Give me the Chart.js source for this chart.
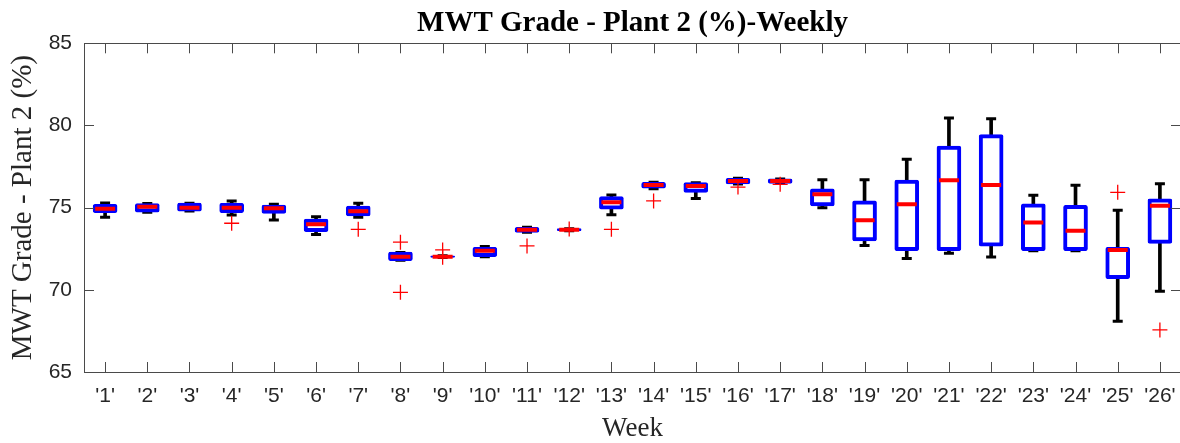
<!DOCTYPE html>
<html>
<head>
<meta charset="utf-8">
<script src="https://cdn.jsdelivr.net/npm/chart.js@4.4.1/dist/chart.umd.min.js"></script>
<style>
  html, body { margin: 0; padding: 0; background: #fff; overflow: hidden; }
  canvas { display: block; }
</style>
</head>
<body>
<!-- a bit wider than the window: Chart.js keeps room for the point markers on the right -->
<canvas id="boxChart" width="1195" height="443"></canvas>
<script>
// Weekly box plot values
const weeks = ["'1'", "'2'", "'3'", "'4'", "'5'", "'6'", "'7'", "'8'", "'9'", "'10'", "'11'", "'12'", "'13'",
               "'14'", "'15'", "'16'", "'17'", "'18'", "'19'", "'20'", "'21'", "'22'", "'23'", "'24'", "'25'", "'26'"];
const q1 =          [74.70, 74.72, 74.78, 74.70, 74.65, 73.54, 74.50, 71.78, 71.97, 72.02, 73.50, 73.60, 74.90,
                     76.18, 75.93, 76.44, 76.48, 75.10, 72.97, 72.38, 72.38, 72.65, 72.38, 72.38, 70.68, 72.83];
const q3 =          [75.20, 75.25, 75.28, 75.27, 75.15, 74.31, 75.10, 72.29, 72.07, 72.59, 73.80, 73.72, 75.67,
                     76.54, 76.52, 76.79, 76.75, 76.14, 75.41, 76.67, 78.75, 79.44, 75.23, 75.14, 72.59, 75.53];
const medians =     [74.94, 75.06, 75.00, 75.00, 74.96, 73.99, 74.78, 72.02, 72.02, 72.37, 73.66, 73.66, 75.33,
                     76.38, 76.32, 76.62, 76.62, 75.81, 74.23, 75.20, 76.67, 76.38, 74.09, 73.60, 72.43, 75.12];
const whiskerLow =  [74.42, 74.72, 74.80, 74.56, 74.25, 73.36, 74.42, 71.80, 71.97, 72.02, 73.50, 73.60, 74.57,
                     76.15, 75.55, 76.44, 76.48, 75.00, 72.69, 71.90, 72.22, 72.00, 72.38, 72.38, 68.09, 69.91];
const whiskerHigh = [75.28, 75.25, 75.27, 75.40, 75.20, 74.45, 75.27, 72.27, 72.07, 72.63, 73.80, 73.72, 75.77,
                     76.54, 76.52, 76.79, 76.75, 76.69, 76.69, 77.94, 80.46, 80.41, 75.75, 76.36, 74.84, 76.46];
const outlierWeeks =  ["'4'", "'7'", "'8'", "'8'", "'9'", "'9'", "'11'", "'12'", "'13'", "'14'", "'16'", "'17'", "'25'", "'26'"];
const outlierValues = [74.05, 73.68, 72.90, 69.85, 72.43, 71.98, 72.67, 73.70, 73.68, 75.41, 76.25, 76.42, 75.93, 67.56];
const yTicks = { min: 65, max: 85, step: 5 };

const axisColor = '#262626';

// frame round the plot with inward tick marks, like the MATLAB axes
const boxFrame = {
    id: 'boxFrame',
    afterDraw(chart) {
        const { ctx, chartArea: a, scales: { x, y } } = chart;
        const len = 10;
        ctx.save();
        ctx.strokeStyle = '#4a4a4a';
        ctx.lineWidth = 1;
        ctx.beginPath();
        x.ticks.forEach((t, i) => {
            const px = Math.round(x.getPixelForTick(i)) + 0.5;
            ctx.moveTo(px, a.bottom); ctx.lineTo(px, a.bottom - len);
            ctx.moveTo(px, a.top); ctx.lineTo(px, a.top + len);
        });
        y.ticks.forEach((t, i) => {
            const py = Math.round(y.getPixelForTick(i)) + 0.5;
            ctx.moveTo(a.left, py); ctx.lineTo(a.left + len, py);
            ctx.moveTo(a.right, py); ctx.lineTo(a.right - len, py);
        });
        ctx.stroke();
        ctx.strokeRect(Math.round(a.left) + 0.5, Math.round(a.top) + 0.5,
                       Math.round(a.width) - 1, Math.round(a.height));
        ctx.restore();
    }
};

const ctx = document.getElementById('boxChart');
new Chart(ctx, {
    type: 'bar',
    data: {
        labels: weeks,
        datasets: [
            {
                // whisker stems
                label: 'whisker',
                data: weeks.map((w, i) => [whiskerLow[i], whiskerHigh[i]]),
                backgroundColor: '#000',
                barThickness: 3,
                grouped: false,
                order: 6
            },
            {
                label: 'capHigh',
                type: 'line',
                data: whiskerHigh,
                showLine: false,
                pointStyle: 'line',
                pointRadius: 5,
                pointBorderWidth: 3,
                borderColor: '#000',
                order: 5
            },
            {
                label: 'capLow',
                type: 'line',
                data: whiskerLow,
                showLine: false,
                pointStyle: 'line',
                pointRadius: 5,
                pointBorderWidth: 3,
                borderColor: '#000',
                order: 5
            },
            {
                // interquartile boxes
                label: 'box',
                data: weeks.map((w, i) => [q1[i], q3[i]]),
                backgroundColor: '#fff',
                borderColor: '#0000ff',
                borderWidth: 4,
                borderSkipped: false,
                borderRadius: 2,
                barThickness: 24,
                grouped: false,
                order: 4
            },
            {
                label: 'median',
                type: 'line',
                data: medians,
                showLine: false,
                pointStyle: 'line',
                pointRadius: 10,
                pointBorderWidth: 4,
                borderColor: '#ff0000',
                order: 2
            },
            {
                label: 'outliers',
                type: 'line',
                data: outlierWeeks.map((w, i) => ({ x: w, y: outlierValues[i] })),
                showLine: false,
                pointStyle: 'cross',
                pointRadius: 7.5,
                pointBorderWidth: 1.3,
                borderColor: '#ff0000',
                order: 1
            }
        ]
    },
    options: {
        responsive: false,
        animation: false,
        events: [],
        layout: { padding: { left: 0, right: 0, top: 0, bottom: 0 } },
        plugins: {
            legend: { display: false },
            tooltip: { enabled: false },
            title: {
                display: true,
                fullSize: false,
                text: 'MWT Grade - Plant 2 (%)-Weekly',
                color: '#000',
                font: { family: '"Liberation Serif", "Times New Roman", serif', size: 29, weight: 'bold', lineHeight: 1.2 },
                padding: { top: 5.8, bottom: 2.7 }
            }
        },
        scales: {
            x: {
                grid: { display: false, drawTicks: false },
                border: { display: false },
                ticks: {
                    color: axisColor,
                    padding: 12,
                    maxRotation: 0,
                    autoSkip: false,
                    font: { family: '"Liberation Sans", Arial, sans-serif', size: 21 }
                },
                title: {
                    display: true,
                    text: 'Week',
                    color: axisColor,
                    font: { family: '"Liberation Serif", "Times New Roman", serif', size: 27, lineHeight: 1 },
                    padding: { top: 0, bottom: 0.5 }
                },
                afterFit: (scale) => {
                    scale.height = 71;
                    scale.paddingLeft = 0;
                    scale.paddingRight = 0;
                }
            },
            y: {
                min: yTicks.min,
                max: yTicks.max,
                grid: { display: false, drawTicks: false },
                border: { display: false },
                ticks: {
                    stepSize: yTicks.step,
                    color: axisColor,
                    padding: 12,
                    font: { family: '"Liberation Sans", Arial, sans-serif', size: 21 }
                },
                title: {
                    display: true,
                    text: 'MWT Grade - Plant 2 (%)',
                    color: axisColor,
                    font: { family: '"Liberation Serif", "Times New Roman", serif', size: 29, lineHeight: 1.2 },
                    padding: { top: 5.6, bottom: 0 }
                },
                afterFit: (scale) => {
                    scale.width = 84;
                    scale.paddingTop = 0;
                    scale.paddingBottom = 0;
                }
            }
        }
    },
    plugins: [boxFrame]
});
</script>
</body>
</html>
